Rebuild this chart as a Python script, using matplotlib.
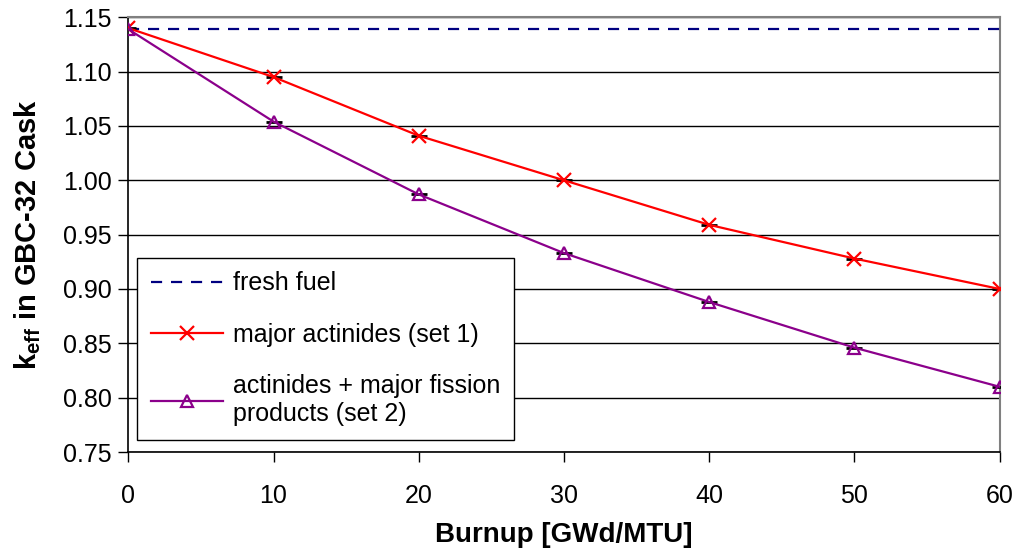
import numpy as np
import matplotlib.pyplot as plt

plt.rcParams['font.family'] = ['Liberation Sans', 'DejaVu Sans']
plt.rcParams['mathtext.fontset'] = 'custom'
plt.rcParams['mathtext.rm'] = 'Liberation Sans'
plt.rcParams['mathtext.bf'] = 'Liberation Sans:bold'

burnup = [0, 10, 20, 30, 40, 50, 60]
fresh_fuel = [1.139] * len(burnup)
set1 = [1.140, 1.095, 1.041, 1.000, 0.959, 0.928, 0.900]
set2 = [1.139, 1.054, 0.987, 0.933, 0.888, 0.846, 0.810]

fig = plt.figure(figsize=(10.18, 5.56), dpi=100)
ax = fig.add_axes([0.126, 0.187, 0.856, 0.782])

ax.plot(burnup, fresh_fuel, color="#000080", linestyle=(0, (5, 4)), linewidth=1.6,
        label="fresh fuel", zorder=3)
ax.plot(burnup, set1, color="red", linewidth=1.6, marker="x", markersize=10,
        markeredgewidth=1.6, label="major actinides (set 1)", zorder=4)
ax.plot(burnup, set2, color="#8b008b", linewidth=1.6, marker="^", markersize=9,
        markerfacecolor="none", markeredgewidth=1.6,
        label="actinides + major fission\nproducts (set 2)", zorder=4)
# small black bars at each point
ax.plot(burnup, set1, linestyle="none", marker="_", color="black", markersize=11,
        markeredgewidth=2, zorder=3)
ax.plot(burnup, set2, linestyle="none", marker="_", color="black", markersize=11,
        markeredgewidth=2, zorder=3)

ax.set_xlim(0, 60)
ax.set_ylim(0.75, 1.15)
ax.set_xticks(burnup)
ax.set_yticks(np.arange(0.75, 1.151, 0.05))
ax.yaxis.set_major_formatter(plt.FormatStrFormatter('%.2f'))
ax.yaxis.grid(True, color="black", linewidth=1)
ax.set_axisbelow(True)
ax.tick_params(axis="both", labelsize=18, direction="out", length=7, width=1)
ax.tick_params(axis="x", pad=16)
ax.tick_params(axis="y", pad=5)
for s in ["top", "right"]:
    ax.spines[s].set_color("gray")
    ax.spines[s].set_linewidth(1.5)
for s in ["left", "bottom"]:
    ax.spines[s].set_color("black")
    ax.spines[s].set_linewidth(1.2)

ax.set_xlabel("Burnup [GWd/MTU]", fontsize=20, fontweight="bold", labelpad=10)
ax.set_ylabel(r"k$_{\mathbf{eff}}$ in GBC-32 Cask", fontsize=21, fontweight="bold",
              labelpad=14)

leg = ax.legend(loc="lower left", bbox_to_anchor=(0.010, 0.028), fontsize=18,
                frameon=True, fancybox=False, edgecolor="black", framealpha=1,
                handlelength=2.9, labelspacing=1.1, borderpad=0.55,
                handletextpad=0.4, borderaxespad=0)
leg.get_frame().set_linewidth(1)

fig.savefig("out.png", dpi=100)
